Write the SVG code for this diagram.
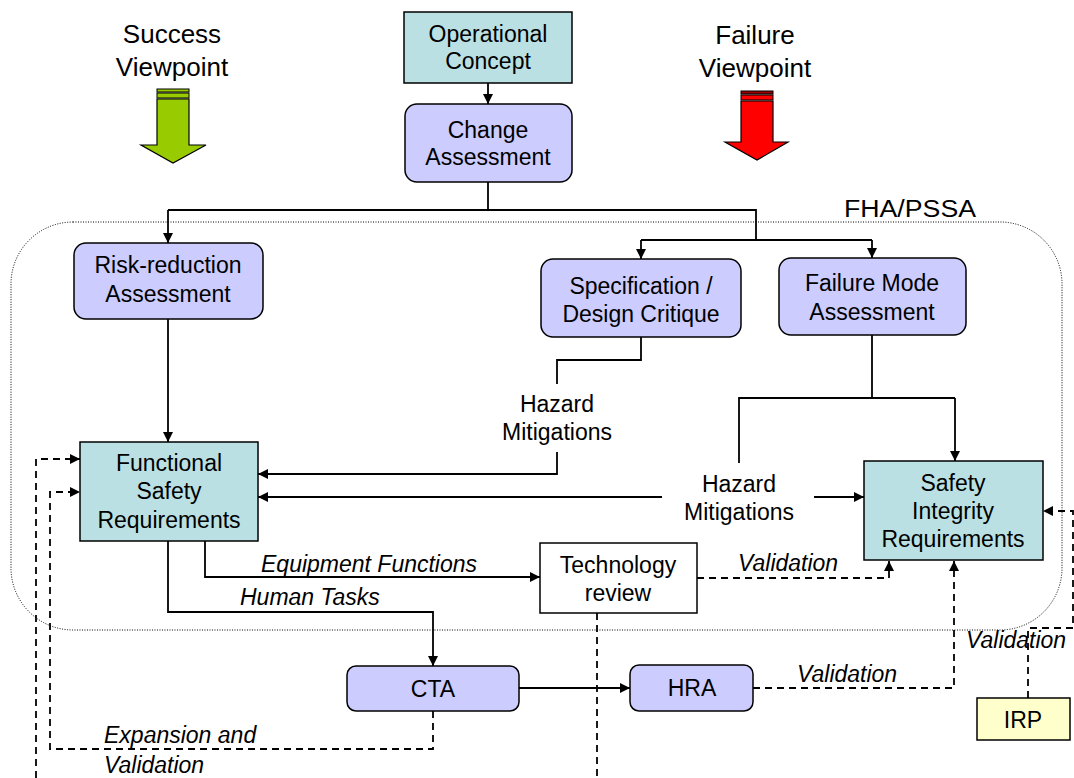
<svg xmlns="http://www.w3.org/2000/svg" width="1074" height="778" viewBox="0 0 1074 778">
<defs>
<marker id="ah" viewBox="0 0 10 10" refX="10" refY="5" markerWidth="10" markerHeight="10" markerUnits="userSpaceOnUse" orient="auto">
<path d="M0,0 L10,5 L0,10 Z" fill="#000"/>
</marker>
</defs>
<style>
text{font-family:"Liberation Sans",Arial,sans-serif;font-size:23px;fill:#000}
.c{text-anchor:middle}
.i{font-style:italic}
.h{font-size:26px}
.teal{fill:#BBE0E3;stroke:#000;stroke-width:1.5}
.lav{fill:#CCCCFF;stroke:#000;stroke-width:1.5}
.wh{fill:#fff;stroke:#000;stroke-width:1.5}
.yel{fill:#FFFFCC;stroke:#000;stroke-width:1.5}
.ln{fill:none;stroke:#000;stroke-width:1.8}
.ds{fill:none;stroke:#000;stroke-width:1.8;stroke-dasharray:7,5}
.ar{marker-end:url(#ah)}
</style>
<rect width="1074" height="778" fill="#fff"/>

<!-- FHA/PSSA boundary -->
<g id="fha">
<rect x="11" y="222" width="1051" height="408" rx="62" ry="62" fill="none" stroke="#000" stroke-width="1" stroke-dasharray="1,1.5"/>
<text x="844" y="217" style="font-size:23px" textLength="132" lengthAdjust="spacingAndGlyphs">FHA/PSSA</text>
</g>

<!-- Viewpoints -->
<g id="success">
<text class="c h" x="172" y="43">Success</text>
<text class="c h" x="172" y="76">Viewpoint</text>
<rect x="157" y="89" width="32" height="3" fill="#99CC00" stroke="#000" stroke-width="1"/>
<rect x="157" y="93" width="32" height="5" fill="#99CC00" stroke="#000" stroke-width="1"/>
<path d="M157,99 L189,99 L189,145 L206,145 L173,163 L141,145 L157,145 Z" fill="#99CC00" stroke="#000" stroke-width="1.2"/>
</g>
<g id="failure">
<text class="c h" x="755" y="44">Failure</text>
<text class="c h" x="755" y="77">Viewpoint</text>
<rect x="741" y="91" width="32" height="3" fill="#990000" stroke="#000" stroke-width="1"/>
<rect x="741" y="95" width="32" height="5" fill="#FF0000" stroke="#000" stroke-width="1"/>
<path d="M741,101 L773,101 L773,142 L788,142 L757,160 L725,142 L741,142 Z" fill="#FF0000" stroke="#000" stroke-width="1.2"/>
</g>

<!-- Connectors -->
<g id="connectors">
<path class="ln ar" d="M488,83 L488,104"/>
<path class="ln" d="M488,182 L488,210 M168,210 L756,210 L756,240 M641,240 L872,240"/>
<path class="ln ar" d="M168,210 L168,243"/>
<path class="ln ar" d="M641,240 L641,259"/>
<path class="ln ar" d="M872,240 L872,258"/>
<path class="ln ar" d="M168,319 L168,442"/>
<path class="ln" d="M641,337 L641,360 L557,360 L557,384"/>
<path class="ln ar" d="M557,452 L557,474 L258,474"/>
<path class="ln" d="M872,335 L872,398 M739,463 L739,398 L955,398"/>
<path class="ln ar" d="M955,398 L955,461"/>
<path class="ln ar" d="M662,497 L258,497"/>
<path class="ln ar" d="M814,497 L864,497"/>
<path class="ln ar" d="M205,541 L205,577 L540,577"/>
<path class="ln ar" d="M168,541 L168,612 L433,612 L433,666"/>
<path class="ds ar" d="M697,578 L889,578 L889,561"/>
<path class="ds" d="M597,613 L597,778"/>
<path class="ln ar" d="M519,688 L630,688"/>
<path class="ds ar" d="M753,688 L954,688 L954,561"/>
<path class="ds ar" d="M1028,698 L1028,628 L1073,628 L1073,511 L1043,511"/>
<path class="ds ar" d="M433,711 L433,749 L50,749 L50,492 L80,492"/>
<path class="ds ar" d="M36,778 L36,459 L80,459"/>
</g>

<!-- Edge labels -->
<g id="labels">
<text class="c" x="557" y="412">Hazard</text>
<text class="c" x="557" y="440">Mitigations</text>
<text class="c" x="739" y="492">Hazard</text>
<text class="c" x="739" y="520">Mitigations</text>
<text class="i" x="261" y="572">Equipment Functions</text>
<text class="i" x="240" y="605">Human Tasks</text>
<text class="i" x="738" y="571">Validation</text>
<text class="i" x="797" y="682">Validation</text>
<text class="i" x="966" y="648">Validation</text>
<text class="i" x="104" y="743">Expansion and</text>
<text class="i" x="104" y="773">Validation</text>
</g>

<!-- Nodes -->
<g id="operational-concept">
<rect class="teal" x="404" y="12" width="168" height="71"/>
<text class="c" x="488" y="42">Operational</text>
<text class="c" x="488" y="69">Concept</text>
</g>
<g id="change-assessment">
<rect class="lav" x="405" y="104" width="167" height="78" rx="12"/>
<text class="c" x="488" y="138">Change</text>
<text class="c" x="488" y="165">Assessment</text>
</g>
<g id="risk-reduction">
<rect class="lav" x="74" y="243" width="189" height="76" rx="12"/>
<text class="c" x="168" y="273">Risk-reduction</text>
<text class="c" x="168" y="302">Assessment</text>
</g>
<g id="spec-critique">
<rect class="lav" x="541" y="259" width="200" height="78" rx="12"/>
<text class="c" x="641" y="294">Specification /</text>
<text class="c" x="641" y="322">Design Critique</text>
</g>
<g id="failure-mode">
<rect class="lav" x="779" y="258" width="187" height="77" rx="12"/>
<text class="c" x="872" y="291">Failure Mode</text>
<text class="c" x="872" y="320">Assessment</text>
</g>
<g id="fsr">
<rect class="teal" x="80" y="442" width="178" height="99"/>
<text class="c" x="169" y="471">Functional</text>
<text class="c" x="169" y="499">Safety</text>
<text class="c" x="169" y="528">Requirements</text>
</g>
<g id="sir">
<rect class="teal" x="864" y="461" width="179" height="99"/>
<text class="c" x="953" y="491">Safety</text>
<text class="c" x="953" y="519">Integrity</text>
<text class="c" x="953" y="547">Requirements</text>
</g>
<g id="technology-review">
<rect class="wh" x="540" y="543" width="157" height="70"/>
<text class="c" x="618" y="573">Technology</text>
<text class="c" x="618" y="601">review</text>
</g>
<g id="cta">
<rect class="lav" x="347" y="666" width="172" height="45" rx="9"/>
<text class="c" x="433" y="697">CTA</text>
</g>
<g id="hra">
<rect class="lav" x="630" y="665" width="123" height="46" rx="9"/>
<text class="c" x="692" y="696">HRA</text>
</g>
<g id="irp">
<rect class="yel" x="977" y="698" width="93" height="42"/>
<text class="c" x="1023" y="728">IRP</text>
</g>
</svg>
